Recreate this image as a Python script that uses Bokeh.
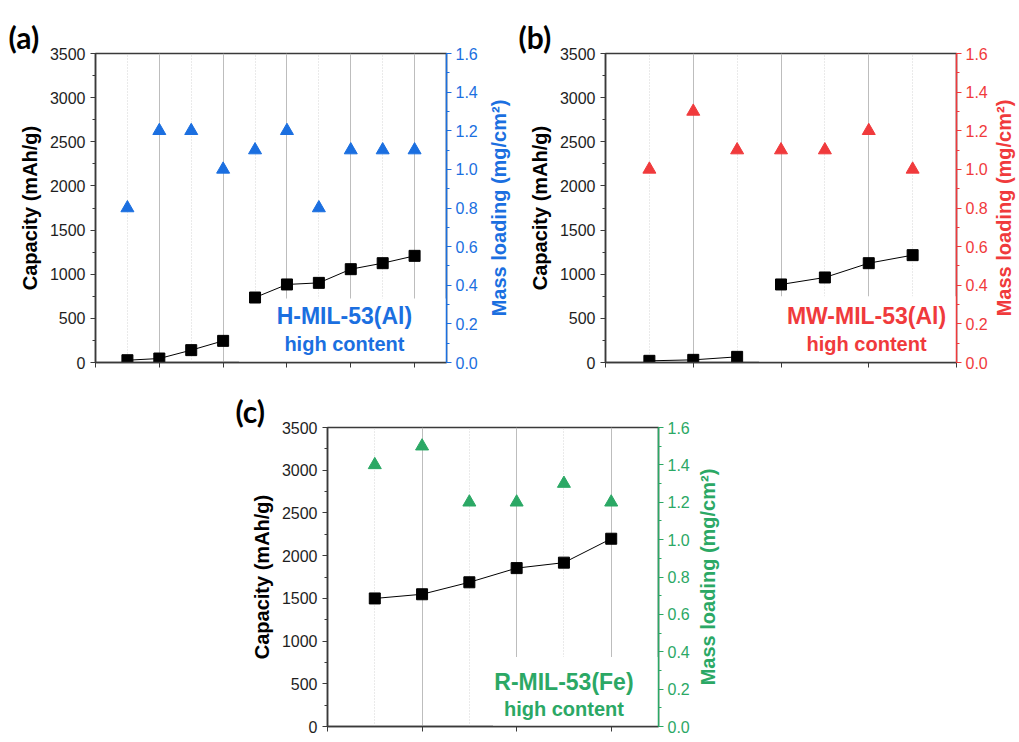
import math
from bokeh.plotting import figure
from bokeh.models import (Range1d, LinearAxis, SingleIntervalTicker, Label,
                          BoxAnnotation, Spacer, NumeralTickFormatter,
                          CustomJSTickFormatter)
from bokeh.core.properties import value
from bokeh.layouts import row, column
from bokeh.embed import file_html
from bokeh.resources import INLINE

# ---------------- data ----------------
a_x = [1, 2, 3, 4, 5, 6, 7, 8, 9, 10]
a_capacity = [26, 45, 140, 245, 736, 884, 902, 1057, 1125, 1208]
a_mass = [0.8, 1.2, 1.2, 1.0, 1.1, 1.2, 0.8, 1.1, 1.1, 1.1]
a_segment = [0, 0, 0, 0, 1, 1, 1, 1, 1, 1]

b_x = [1, 2, 3, 4, 5, 6, 7]
b_capacity = [19, 30, 64, 884, 963, 1125, 1216]
b_mass = [1.0, 1.3, 1.1, 1.1, 1.1, 1.2, 1.0]
b_segment = [0, 0, 0, 1, 1, 1, 1]

c_x = [1, 2, 3, 4, 5, 6]
c_capacity = [1499, 1548, 1688, 1854, 1918, 2198]
c_mass = [1.4, 1.5, 1.2, 1.2, 1.3, 1.2]
c_segment = [0, 0, 0, 0, 0, 0]

panel_tags = ["(a)", "(b)", "(c)"]
sample_names = ["H-MIL-53(Al)", "MW-MIL-53(Al)", "R-MIL-53(Fe)"]
sub_text = "high content"
y_label_left = "Capacity (mAh/g)"
y_label_right = "Mass loading (mg/cm\u00b2)"
colors = ["#1b6fe0", "#f03a3c", "#2ba865"]

FONT = "Liberation Sans"
TAG_FONT = "Lato"
INK = "#1e1e1e"
CAP_MAX = 3500
ML_MAX = 1.6


def make_panel(tag, xs, cap, mass, seg, name, color, xmax,
               width, height, b_left, b_right, b_top, b_bottom,
               title_offset, text_x, name_y, sub_y, box_left, box_top):
    p = figure(width=width, height=height, output_backend="svg",
               toolbar_location=None, x_range=Range1d(0, xmax),
               y_range=Range1d(0, CAP_MAX), min_border_left=b_left,
               min_border_right=b_right, min_border_top=b_top,
               min_border_bottom=b_bottom)
    p.background_fill_color = "white"
    p.border_fill_color = "white"
    p.outline_line_color = "#3a3a3a"
    p.outline_line_width = 1.5

    # title tag
    p.title.text = tag
    p.title.text_font = TAG_FONT
    p.title.text_font_style = "bold"
    p.title.text_font_size = "30px"
    p.title.text_color = "black"
    p.title.align = "left"
    p.title.offset = title_offset
    p.title.standoff = -3

    # bottom axis
    xa = p.xaxis[0]
    xa.ticker = SingleIntervalTicker(interval=2, num_minor_ticks=2)
    xa.formatter = CustomJSTickFormatter(code="return ''")
    xa.major_label_standoff = 0
    xa.major_tick_out = 5
    xa.major_tick_in = 0
    xa.minor_tick_line_color = None
    xa.axis_line_color = "#3a3a3a"
    xa.axis_line_width = 1.5
    xa.major_tick_line_color = "#3a3a3a"

    # grids
    p.ygrid.grid_line_color = None
    p.xgrid.grid_line_color = "#bdbdbd"
    p.xgrid.grid_line_width = 1
    p.xgrid.minor_grid_line_color = "#d4d4d4"
    p.xgrid.minor_grid_line_dash = "1 2"
    p.xgrid.minor_grid_line_width = 1

    # left axis
    ya = p.yaxis[0]
    ya.ticker = SingleIntervalTicker(interval=500, num_minor_ticks=2)
    ya.axis_label = y_label_left
    ya.axis_label_text_font = FONT
    ya.axis_label_text_font_style = "bold"
    ya.axis_label_text_font_size = "20px"
    ya.axis_label_text_color = "black"
    ya.axis_label_standoff = 6
    ya.major_label_text_font = FONT
    ya.major_label_text_font_size = "16px"
    ya.major_label_text_color = INK
    ya.major_label_standoff = 5
    ya.major_tick_out = 5
    ya.major_tick_in = 0
    ya.minor_tick_out = 3
    ya.minor_tick_in = 0
    ya.axis_line_color = "#3a3a3a"
    ya.axis_line_width = 1.5
    ya.major_tick_line_color = "#3a3a3a"
    ya.minor_tick_line_color = "#3a3a3a"

    # right axis
    p.extra_y_ranges = {"ml": Range1d(0, ML_MAX)}
    ra = LinearAxis(y_range_name="ml",
                    ticker=SingleIntervalTicker(interval=0.2, num_minor_ticks=2),
                    formatter=NumeralTickFormatter(format="0.0"))
    ra.major_label_text_font = FONT
    ra.major_label_text_font_size = "16px"
    ra.major_label_text_color = color
    ra.major_label_standoff = 4
    ra.major_tick_out = 5
    ra.major_tick_in = 0
    ra.minor_tick_out = 3
    ra.minor_tick_in = 0
    ra.axis_line_color = color
    ra.axis_line_width = 1.5
    ra.major_tick_line_color = color
    ra.minor_tick_line_color = color
    p.add_layout(ra, "right")

    # white box behind the sample text (covers grid lines)
    box = BoxAnnotation(left=box_left, right=xmax, bottom=0, top=box_top,
                        fill_color="white", fill_alpha=1.0,
                        line_color=None, level="underlay")
    p.add_layout(box)

    # data
    for s in sorted(set(seg)):
        sx = [x for x, g in zip(xs, seg) if g == s]
        sy = [y for y, g in zip(cap, seg) if g == s]
        p.line(sx, sy, line_color="black", line_width=1)
    p.scatter(xs, cap, marker="square", size=11, fill_color="black",
              line_color="black")
    p.scatter(xs, mass, y_range_name="ml", marker="triangle", size=13,
              fill_color=color, line_color=color)

    p.add_layout(Label(x=text_x, y=name_y, text=name, text_align="center",
                       text_baseline="middle", text_font=FONT,
                       text_font_style="bold", text_font_size="23px",
                       text_color=color))
    p.add_layout(Label(x=text_x, y=sub_y, text=sub_text, text_align="center",
                       text_baseline="middle", text_font=FONT,
                       text_font_style="bold", text_font_size="20px",
                       text_color=color))
    return p


def make_right_title(color, width, height, b_top, b_bottom):
    """Narrow strip holding the right-axis title, reading bottom to top."""
    q = figure(width=width, height=height, output_backend="svg",
               toolbar_location=None, x_axis_type=None, y_axis_type=None,
               x_range=Range1d(0, 1), y_range=Range1d(0, 1),
               min_border_left=0, min_border_right=0,
               min_border_top=b_top, min_border_bottom=b_bottom)
    q.outline_line_color = None
    q.background_fill_color = "white"
    q.border_fill_color = "white"
    q.text(x=[0.5], y=[0.5], text=[y_label_right], angle=math.pi / 2,
           text_align="center", text_baseline="middle",
           text_font=value(FONT), text_font_style="bold",
           text_font_size="20px", text_color=color)
    return q


pa = make_panel(panel_tags[0], a_x, a_capacity, a_mass, a_segment,
                sample_names[0], colors[0], 11,
                width=480, height=372, b_left=95, b_right=32, b_top=53,
                b_bottom=10, title_offset=-87, text_x=7.8, name_y=532,
                sub_y=204, box_left=4.5, box_top=725)
ra_title = make_right_title(colors[0], 36, 372, 53, 10)

pb = make_panel(panel_tags[1], b_x, b_capacity, b_mass, b_segment,
                sample_names[1], colors[1], 8,
                width=474, height=372, b_left=89, b_right=32, b_top=53,
                b_bottom=10, title_offset=-87, text_x=5.95, name_y=532,
                sub_y=215, box_left=3.5, box_top=750)
rb_title = make_right_title(colors[1], 27, 372, 53, 10)

pc = make_panel(panel_tags[2], c_x, c_capacity, c_mass, c_segment,
                sample_names[2], colors[2], 7,
                width=472, height=366, b_left=107, b_right=32, b_top=55,
                b_bottom=12, title_offset=-92, text_x=5.0, name_y=524,
                sub_y=204, box_left=3.5, box_top=815)
rc_title = make_right_title(colors[2], 30, 366, 55, 12)

layout = column(row(pa, ra_title, pb, rb_title),
                row(Spacer(width=220, height=366), pc, rc_title))

with open("out.html", "w") as f:
    f.write(file_html(layout, INLINE))
